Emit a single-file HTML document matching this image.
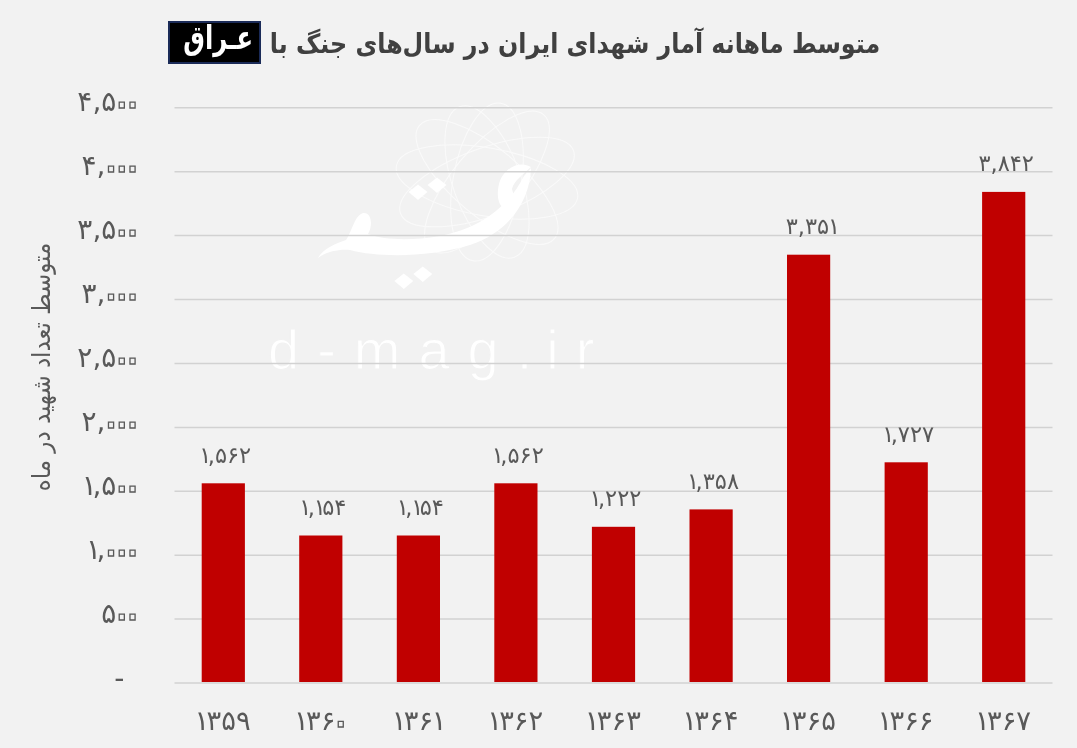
<!DOCTYPE html>
<html lang="fa"><head><meta charset="utf-8"><title>chart</title>
<style>
html,body{margin:0;padding:0;}
body{width:1077px;height:748px;overflow:hidden;background:#f2f2f2;font-family:"DejaVu Sans","Liberation Sans",sans-serif;color:#595959;position:relative;}
.yl{position:absolute;width:100px;left:38px;text-align:right;font-size:28px;line-height:30px;height:30px;direction:ltr;white-space:nowrap;}
.xl{position:absolute;width:98px;text-align:center;font-size:27.4px;line-height:30px;height:30px;top:705.7px;white-space:nowrap;direction:ltr;}
.dl{position:absolute;width:98px;text-align:center;font-size:22.5px;line-height:24px;height:24px;white-space:nowrap;direction:ltr;}
i{font-style:normal;font-size:170%;line-height:0;margin:0 -0.155em;position:relative;top:0.147em;color:transparent;-webkit-text-stroke:1.3px #595959;stroke-linejoin:round;}
b{font-weight:normal;margin:0 -0.1em 0 -0.05em;}
.yl b,.dl b{margin-right:-0.16em;}
#title{position:absolute;top:0;left:0;width:1077px;height:80px;font-weight:bold;color:#404040;white-space:nowrap;}
#title .t{position:absolute;right:196.8px;top:28.2px;font-size:27px;line-height:32px;direction:rtl;transform:scaleX(0.8805);transform-origin:100% 50%;}
#title .k{position:absolute;box-sizing:border-box;left:168px;top:21px;width:93px;height:43px;background:#000;border:2px solid #1b2b58;}
#title .k span{position:absolute;right:5.7px;top:-5.3px;font-size:33px;line-height:40px;color:#fff;direction:rtl;transform:scaleX(0.734);transform-origin:100% 50%;}
#yt{position:absolute;left:42px;top:366.8px;width:0;height:0;}
#yt span{position:absolute;white-space:nowrap;font-size:25px;line-height:30px;transform:translate(-50%,-50%) rotate(-90deg) scaleX(0.917);direction:rtl;}
#wm{position:absolute;left:0;top:0;}
</style></head><body>

<svg id="wm" width="1077" height="748" viewBox="0 0 1077 748">
<g fill="none" stroke="#ffffff" stroke-width="1" opacity="0.6">
<ellipse cx="487" cy="182" rx="92" ry="34" transform="rotate(-20 487 182)"/>
<ellipse cx="487" cy="182" rx="92" ry="34" transform="rotate(10 487 182)"/>
<ellipse cx="487" cy="182" rx="88" ry="34" transform="rotate(40 487 182)"/>
<ellipse cx="487" cy="182" rx="80" ry="34" transform="rotate(70 487 182)"/>
<ellipse cx="487" cy="182" rx="80" ry="34" transform="rotate(100 487 182)"/>
<ellipse cx="487" cy="182" rx="88" ry="34" transform="rotate(130 487 182)"/>
</g>
<g fill="#ffffff">
<path d="M318,258 C322,250 334,244 346,240 C352,232 354,216 363,213 C372,212 373,226 368,234 C385,240 410,241 440,236 C478,229 508,208 524,176 L531,168 C530,200 510,232 470,245 C430,257 380,258 350,250 C338,249 326,252 318,258 Z"/>
<path d="M531,167 C520,160 503,168 499,184 C496,197 499,207 505,208 C513,207 515,197 512,189 C514,180 523,175 531,167 Z"/>
<path d="M418,184.5 l9.5,7.5 l-9.5,8 l-9.5,-8 Z M437,177.5 l9.5,7.5 l-9.5,8 l-9.5,-8 Z"/>
<path d="M403.8,273.5 l9.5,7.5 l-9.5,8 l-9.5,-8 Z M422.8,266.5 l9.5,7.5 l-9.5,8 l-9.5,-8 Z"/>
</g>
<text x="268" y="368.6" font-family="'Liberation Sans',sans-serif" font-size="56" letter-spacing="18" fill="#ffffff" stroke="#f2f2f2" stroke-width="1.1">d-mag.<tspan dx="-4">i</tspan><tspan dx="-1">r</tspan></text>

<line x1="174.5" x2="1052.5" y1="107.8" y2="107.8" stroke="#d2d2d2" stroke-width="1.5"/>
<line x1="174.5" x2="1052.5" y1="171.7" y2="171.7" stroke="#d2d2d2" stroke-width="1.5"/>
<line x1="174.5" x2="1052.5" y1="235.6" y2="235.6" stroke="#d2d2d2" stroke-width="1.5"/>
<line x1="174.5" x2="1052.5" y1="299.5" y2="299.5" stroke="#d2d2d2" stroke-width="1.5"/>
<line x1="174.5" x2="1052.5" y1="363.4" y2="363.4" stroke="#d2d2d2" stroke-width="1.5"/>
<line x1="174.5" x2="1052.5" y1="427.4" y2="427.4" stroke="#d2d2d2" stroke-width="1.5"/>
<line x1="174.5" x2="1052.5" y1="491.3" y2="491.3" stroke="#d2d2d2" stroke-width="1.5"/>
<line x1="174.5" x2="1052.5" y1="555.2" y2="555.2" stroke="#d2d2d2" stroke-width="1.5"/>
<line x1="174.5" x2="1052.5" y1="619.1" y2="619.1" stroke="#d2d2d2" stroke-width="1.5"/>
<line x1="174.5" x2="1052.5" y1="683.0" y2="683.0" stroke="#d2d2d2" stroke-width="1.5"/>
<rect x="201.7" y="483.3" width="43.2" height="198.7" fill="#c00000"/>
<rect x="299.2" y="535.5" width="43.2" height="146.5" fill="#c00000"/>
<rect x="396.8" y="535.5" width="43.2" height="146.5" fill="#c00000"/>
<rect x="494.3" y="483.3" width="43.2" height="198.7" fill="#c00000"/>
<rect x="591.9" y="526.8" width="43.2" height="155.2" fill="#c00000"/>
<rect x="689.5" y="509.4" width="43.2" height="172.6" fill="#c00000"/>
<rect x="787.0" y="254.7" width="43.2" height="427.3" fill="#c00000"/>
<rect x="884.6" y="462.3" width="43.2" height="219.7" fill="#c00000"/>
<rect x="982.1" y="191.9" width="43.2" height="490.1" fill="#c00000"/>
</svg>
<div class="dl" style="left:176.8px;top:442.5px"><b>۱</b>,۵۶۲</div>
<div class="xl" style="left:174.3px"><b>۱</b>۳۵۹</div>
<div class="dl" style="left:274.3px;top:494.7px"><b>۱</b>,<b>۱</b>۵۴</div>
<div class="xl" style="left:271.8px"><b>۱</b>۳۶<i>۰</i></div>
<div class="dl" style="left:371.9px;top:494.7px"><b>۱</b>,<b>۱</b>۵۴</div>
<div class="xl" style="left:369.4px"><b>۱</b>۳۶<b>۱</b></div>
<div class="dl" style="left:469.4px;top:442.5px"><b>۱</b>,۵۶۲</div>
<div class="xl" style="left:466.9px"><b>۱</b>۳۶۲</div>
<div class="dl" style="left:567.0px;top:486.0px"><b>۱</b>,۲۲۲</div>
<div class="xl" style="left:564.5px"><b>۱</b>۳۶۳</div>
<div class="dl" style="left:664.6px;top:468.6px"><b>۱</b>,۳۵۸</div>
<div class="xl" style="left:662.1px"><b>۱</b>۳۶۴</div>
<div class="dl" style="left:762.1px;top:213.9px">۳,۳۵<b>۱</b></div>
<div class="xl" style="left:759.6px"><b>۱</b>۳۶۵</div>
<div class="dl" style="left:859.7px;top:421.5px"><b>۱</b>,۷۲۷</div>
<div class="xl" style="left:857.2px"><b>۱</b>۳۶۶</div>
<div class="dl" style="left:957.2px;top:151.1px">۳,۸۴۲</div>
<div class="xl" style="left:954.7px"><b>۱</b>۳۶۷</div>
<div class="yl" style="top:87.4px">۴,۵<i>۰</i><i>۰</i></div>
<div class="yl" style="top:151.3px">۴,<i>۰</i><i>۰</i><i>۰</i></div>
<div class="yl" style="top:215.2px">۳,۵<i>۰</i><i>۰</i></div>
<div class="yl" style="top:279.1px">۳,<i>۰</i><i>۰</i><i>۰</i></div>
<div class="yl" style="top:343.0px">۲,۵<i>۰</i><i>۰</i></div>
<div class="yl" style="top:407.0px">۲,<i>۰</i><i>۰</i><i>۰</i></div>
<div class="yl" style="top:470.9px"><b>۱</b>,۵<i>۰</i><i>۰</i></div>
<div class="yl" style="top:534.8px"><b>۱</b>,<i>۰</i><i>۰</i><i>۰</i></div>
<div class="yl" style="top:598.7px">۵<i>۰</i><i>۰</i></div>
<div class="yl" style="top:664.1px;padding-right:13.7px;box-sizing:border-box">-</div>
<div id="title"><span class="t">متوسط ماهانه آمار شهدای ایران در سال‌های جنگ با</span><span class="k"><span>عـراق</span></span></div>
<div id="yt"><span>متوسط تعداد شهید در ماه</span></div>
</body></html>
